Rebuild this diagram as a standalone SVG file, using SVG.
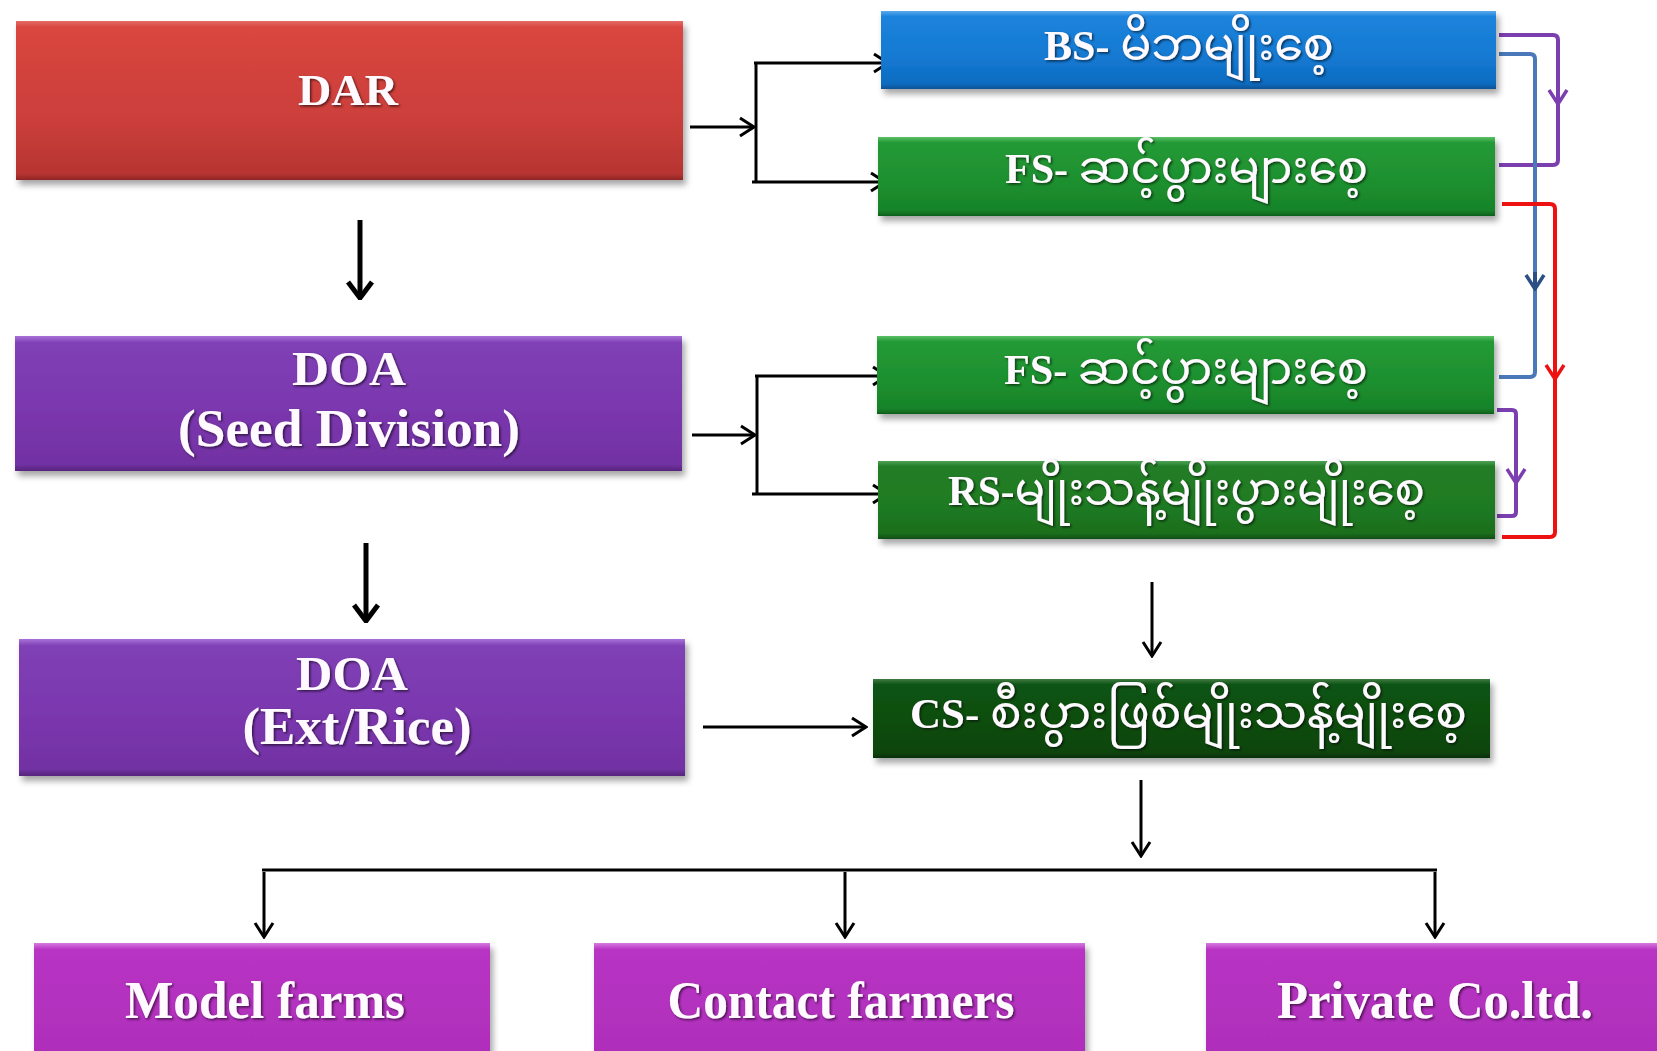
<svg xmlns="http://www.w3.org/2000/svg" width="1657" height="1051" viewBox="0 0 1657 1051">
<defs>
<style>
.lbl{font-family:"Liberation Serif","Times New Roman",serif;font-weight:bold;fill:#fffaff;filter:url(#tsh)}
.my{font-family:"Noto Sans Myanmar","Padauk","Myanmar Text","Noto Sans","DejaVu Sans",sans-serif;font-weight:normal;font-size:46px}
.blk{fill:none;stroke:#000;stroke-width:3;marker-end:url(#ah)}
.blkn{fill:none;stroke:#000;stroke-width:3}
.box{filter:url(#sh)}
.col{fill:none;stroke-width:4;stroke-linejoin:round}
</style>
<filter id="sh" x="-5%" y="-20%" width="115%" height="150%">
<feDropShadow dx="3" dy="5" stdDeviation="3" flood-color="#000" flood-opacity="0.35"/>
</filter>
<filter id="tsh" x="-10%" y="-30%" width="120%" height="160%">
<feDropShadow dx="1.5" dy="1.5" stdDeviation="1.2" flood-color="#000" flood-opacity="0.6"/>
</filter>
<marker id="ah" viewBox="0 0 18 22" refX="16" refY="11" markerWidth="18" markerHeight="22" markerUnits="userSpaceOnUse" orient="auto">
<path d="M2,2 L16,11 L2,20" fill="none" stroke="#000" stroke-width="3"/>
</marker>
<marker id="ahb" viewBox="0 0 20 28" refX="18" refY="14" markerWidth="20" markerHeight="28" markerUnits="userSpaceOnUse" orient="auto">
<path d="M2,2 L18,14 L2,26" fill="none" stroke="#000" stroke-width="5"/>
</marker>
<marker id="ahp" viewBox="0 0 18 22" refX="16" refY="11" markerWidth="18" markerHeight="22" markerUnits="userSpaceOnUse" orient="auto">
<path d="M2,2 L16,11 L2,20" fill="none" stroke="#7b3fb0" stroke-width="3.5"/>
</marker>
<marker id="ahr" viewBox="0 0 18 22" refX="16" refY="11" markerWidth="18" markerHeight="22" markerUnits="userSpaceOnUse" orient="auto">
<path d="M2,2 L16,11 L2,20" fill="none" stroke="#ee1111" stroke-width="3.5"/>
</marker>
<marker id="ahu" viewBox="0 0 18 22" refX="16" refY="11" markerWidth="18" markerHeight="22" markerUnits="userSpaceOnUse" orient="auto">
<path d="M2,2 L16,11 L2,20" fill="none" stroke="#2c4f84" stroke-width="3.5"/>
</marker>
<linearGradient id="gRed" x1="0" y1="0" x2="0" y2="1">
<stop offset="0" stop-color="#e56a66"/><stop offset="0.04" stop-color="#d9463f"/><stop offset="0.6" stop-color="#cc3f3b"/><stop offset="0.96" stop-color="#b73532"/><stop offset="1" stop-color="#8e2624"/>
</linearGradient>
<linearGradient id="gBlue" x1="0" y1="0" x2="0" y2="1">
<stop offset="0" stop-color="#5aa9ec"/><stop offset="0.07" stop-color="#1d83dc"/><stop offset="0.6" stop-color="#1479d2"/><stop offset="0.93" stop-color="#0d6cc0"/><stop offset="1" stop-color="#0a5294"/>
</linearGradient>
<linearGradient id="gGreen" x1="0" y1="0" x2="0" y2="1">
<stop offset="0" stop-color="#5cc067"/><stop offset="0.07" stop-color="#249a36"/><stop offset="0.6" stop-color="#1d8f2e"/><stop offset="0.93" stop-color="#178329"/><stop offset="1" stop-color="#0f5e1c"/>
</linearGradient>
<linearGradient id="gGreen2" x1="0" y1="0" x2="0" y2="1">
<stop offset="0" stop-color="#4fa256"/><stop offset="0.07" stop-color="#227d26"/><stop offset="0.6" stop-color="#1f7a22"/><stop offset="0.93" stop-color="#1a6e1d"/><stop offset="1" stop-color="#114d13"/>
</linearGradient>
<linearGradient id="gGreen3" x1="0" y1="0" x2="0" y2="1">
<stop offset="0" stop-color="#3f7a42"/><stop offset="0.07" stop-color="#0f5413"/><stop offset="0.6" stop-color="#0c4c0f"/><stop offset="0.93" stop-color="#0a440c"/><stop offset="1" stop-color="#063008"/>
</linearGradient>
<linearGradient id="gPurple" x1="0" y1="0" x2="0" y2="1">
<stop offset="0" stop-color="#a872d8"/><stop offset="0.05" stop-color="#8040b6"/><stop offset="0.6" stop-color="#7a36ad"/><stop offset="0.95" stop-color="#7232a3"/><stop offset="1" stop-color="#56257c"/>
</linearGradient>
<linearGradient id="gMag" x1="0" y1="0" x2="0" y2="1">
<stop offset="0" stop-color="#d67ae0"/><stop offset="0.05" stop-color="#b834c4"/><stop offset="1" stop-color="#ad2db8"/>
</linearGradient>
</defs>
<rect width="1657" height="1051" fill="#ffffff"/>

<g id="connectors">
<path class="blk" d="M690,127 L754,127"/>
<path class="blkn" d="M756,62 L756,183"/>
<path class="blk" d="M754,63 L888,63"/>
<path class="blk" d="M752,182 L885,182"/>
<path class="blk" d="M692,435 L755,435"/>
<path class="blkn" d="M757,375 L757,495"/>
<path class="blk" d="M755,376 L887,376"/>
<path class="blk" d="M752,494 L887,494"/>
<path fill="none" stroke="#000" stroke-width="5" marker-end="url(#ahb)" d="M360,220 L360,298"/>
<path fill="none" stroke="#000" stroke-width="5" marker-end="url(#ahb)" d="M366,543 L366,621"/>
<path class="blk" stroke-width="4" d="M703,727 L866,727"/>
<path class="blk" stroke-width="2.5" d="M1152,582 L1152,656"/>
<path class="blk" stroke-width="2.5" d="M1141,780 L1141,856"/>
<path class="blkn" stroke-width="4.5" d="M262,870 L1437,870"/>
<path class="blk" stroke-width="2.5" d="M264,872 L264,937"/>
<path class="blk" stroke-width="2.5" d="M845,872 L845,937"/>
<path class="blk" stroke-width="2.5" d="M1435,872 L1435,937"/>
<path class="col" stroke="#7b3fb0" d="M1499,35 L1553,35 Q1558,35 1558,40 L1558,160 Q1558,165 1553,165 L1499,165"/>
<path class="col" stroke="#7b3fb0" marker-end="url(#ahp)" d="M1558,90 L1558,104"/>
<path class="col" stroke="#4a78b8" stroke-width="3.5" d="M1499,54 L1530,54 Q1535,54 1535,59 L1535,372 Q1535,377 1530,377 L1499,377"/>
<path class="col" stroke="#2c4f84" stroke-width="3.5" marker-end="url(#ahu)" d="M1535,272 L1535,289"/>
<path class="col" stroke="#ee1111" d="M1502,204 L1550,204 Q1555,204 1555,209 L1555,532 Q1555,537 1550,537 L1502,537"/>
<path class="col" stroke="#ee1111" marker-end="url(#ahr)" d="M1555,362 L1555,379"/>
<path class="col" stroke="#7b3fb0" d="M1497,410 L1512,410 Q1516,410 1516,414 L1516,512 Q1516,516 1512,516 L1497,516"/>
<path class="col" stroke="#7b3fb0" marker-end="url(#ahp)" d="M1516,468 L1516,483"/>
</g>

<g id="dar" class="box">
<rect x="16" y="21" width="667" height="159" fill="url(#gRed)"/>
<text class="lbl" x="348" y="105" font-size="45" text-anchor="middle" textLength="100" lengthAdjust="spacingAndGlyphs">DAR</text>
</g>
<g id="doa-seed" class="box">
<rect x="15" y="336" width="667" height="135" fill="url(#gPurple)"/>
<text class="lbl" x="349" y="385" font-size="48" text-anchor="middle" textLength="114" lengthAdjust="spacingAndGlyphs">DOA</text>
<text class="lbl" x="349" y="446" font-size="52" text-anchor="middle" textLength="342" lengthAdjust="spacingAndGlyphs">(Seed Division)</text>
</g>
<g id="doa-ext" class="box">
<rect x="19" y="639" width="666" height="137" fill="url(#gPurple)"/>
<text class="lbl" x="352" y="690" font-size="48" text-anchor="middle" textLength="112" lengthAdjust="spacingAndGlyphs">DOA</text>
<text class="lbl" x="357" y="744" font-size="52" text-anchor="middle" textLength="229" lengthAdjust="spacingAndGlyphs">(Ext/Rice)</text>
</g>
<g id="bs" class="box">
<rect x="881" y="11" width="615" height="78" fill="url(#gBlue)"/>
<text class="lbl" x="1044" y="60" font-size="42" textLength="290" lengthAdjust="spacingAndGlyphs">BS- <tspan class="my">မိဘမျိုးစေ့</tspan></text>
</g>
<g id="fs1" class="box">
<rect x="878" y="137" width="617" height="79" fill="url(#gGreen)"/>
<text class="lbl" x="1005" y="183" font-size="42" textLength="363" lengthAdjust="spacingAndGlyphs">FS- <tspan class="my">ဆင့်ပွားများစေ့</tspan></text>
</g>
<g id="fs2" class="box">
<rect x="877" y="336" width="617" height="78" fill="url(#gGreen)"/>
<text class="lbl" x="1004" y="384" font-size="42" textLength="364" lengthAdjust="spacingAndGlyphs">FS- <tspan class="my">ဆင့်ပွားများစေ့</tspan></text>
</g>
<g id="rs" class="box">
<rect x="878" y="461" width="617" height="78" fill="url(#gGreen2)"/>
<text class="lbl" x="948" y="505" font-size="42" textLength="477" lengthAdjust="spacingAndGlyphs">RS-<tspan class="my">မျိုးသန့်မျိုးပွားမျိုးစေ့</tspan></text>
</g>
<g id="cs" class="box">
<rect x="873" y="679" width="617" height="79" fill="url(#gGreen3)"/>
<text class="lbl" x="910" y="728" font-size="42" textLength="557" lengthAdjust="spacingAndGlyphs">CS- <tspan class="my">စီးပွားဖြစ်မျိုးသန့်မျိုးစေ့</tspan></text>
</g>
<g id="model" class="box">
<rect x="34" y="943" width="456" height="130" fill="url(#gMag)"/>
<text class="lbl" x="265" y="1018" font-size="52" text-anchor="middle" textLength="280" lengthAdjust="spacingAndGlyphs">Model farms</text>
</g>
<g id="contact" class="box">
<rect x="594" y="943" width="491" height="130" fill="url(#gMag)"/>
<text class="lbl" x="841" y="1018" font-size="52" text-anchor="middle" textLength="347" lengthAdjust="spacingAndGlyphs">Contact farmers</text>
</g>
<g id="private" class="box">
<rect x="1206" y="943" width="470" height="130" fill="url(#gMag)"/>
<text class="lbl" x="1435" y="1018" font-size="52" text-anchor="middle" textLength="316" lengthAdjust="spacingAndGlyphs">Private Co.ltd.</text>
</g>
</svg>
